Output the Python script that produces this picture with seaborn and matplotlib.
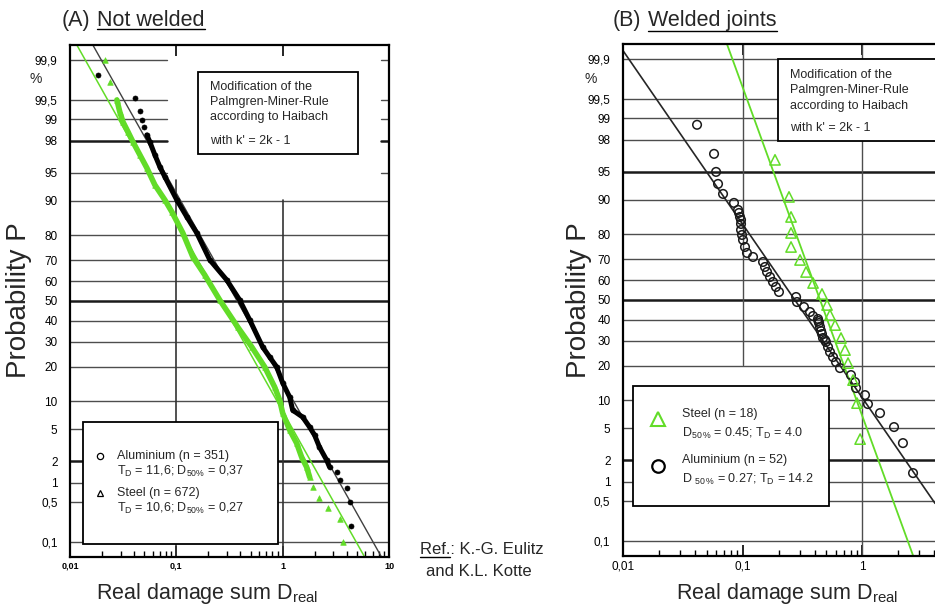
import numpy as np
import pandas as pd
import matplotlib
matplotlib.use("Agg")
import matplotlib.pyplot as plt
import matplotlib.ticker as mticker
import seaborn as sns
from matplotlib.patches import Rectangle
from matplotlib.lines import Line2D
from statistics import NormalDist

# ---------------- data (D_real, probability P in %) ----------------
# (A) not welded - aluminium (n = 351), traced along the dense point cloud
al_a_D = [0.0183, 0.0407, 0.0454, 0.0474, 0.0496, 0.0528, 0.0564, 0.0628, 0.0700, 0.0780,
          0.101, 0.1255, 0.1557, 0.2065, 0.298, 0.394, 0.490, 0.648, 0.755, 0.879,
          1.00, 1.164, 1.242, 1.542, 1.795, 1.996, 2.22, 2.59, 2.76, 3.21,
          3.43, 3.99, 4.26, 4.35]
al_a_P = [99.81, 99.54, 99.26, 98.99, 98.72, 98.33, 97.92, 96.94, 95.71, 94.41,
          90.23, 85.93, 80.83, 70.05, 60.6, 50.5, 40.4, 27.8, 23.6, 19.9,
          14.7, 10.9, 8.1, 6.85, 5.3, 4.29, 3.06, 2.08, 1.67, 1.42,
          1.09, 0.83, 0.50, 0.20]
# (A) not welded - steel (n = 672)
st_a_D = [0.0213, 0.0238, 0.0276, 0.0294, 0.0315, 0.0351, 0.0391, 0.0454, 0.0528, 0.0628,
          0.0780, 0.0908, 0.1151, 0.143, 0.185, 0.256, 0.378, 0.512, 0.678, 0.841,
          0.937, 1.00, 1.164, 1.353, 1.507, 1.679, 1.795, 1.915, 2.22, 2.65,
          3.43, 3.66]
st_a_P = [99.90, 99.75, 99.50, 99.23, 98.91, 98.49, 97.92, 96.94, 95.59, 93.15,
          90.23, 87.32, 80.83, 71.36, 63.05, 50.5, 36.9, 27.8, 19.9, 13.5,
          10.2, 7.55, 4.91, 3.43, 2.28, 1.67, 1.20, 0.85, 0.58, 0.40,
          0.26, 0.10]
# fitted lines in (A), end points read at the frame
al_a_fit_D = [0.0164, 8.5]
al_a_fit_P = [99.948, 0.052]
st_a_fit_D = [0.0116, 5.9]
st_a_fit_P = [99.948, 0.052]

# (B) welded joints - aluminium (n = 52)
al_b_D = [0.0416, 0.0577, 0.0600, 0.0623, 0.0686, 0.0847, 0.0916, 0.0933, 0.0951, 0.0970,
          0.0970, 0.0970, 0.0989, 0.1008, 0.1047, 0.1088, 0.1222, 0.1482, 0.1539, 0.160,
          0.1695, 0.1795, 0.190, 0.2014, 0.280, 0.285, 0.326, 0.366, 0.388, 0.427,
          0.43, 0.436, 0.444, 0.453, 0.461, 0.470, 0.489, 0.498, 0.518, 0.538,
          0.570, 0.604, 0.652, 0.805, 0.871, 0.887, 1.055, 1.117, 1.409, 1.845,
          2.19, 2.66]
al_b_P = [98.76, 96.94, 94.96, 93.15, 91.29, 89.32, 87.58, 86.76, 85.63, 84.75,
          83.50, 81.52, 79.76, 77.91, 75.15, 72.67, 70.93, 68.69, 66.39, 64.02,
          61.60, 59.13, 56.63, 54.09, 51.53, 48.97, 46.42, 43.89, 41.88, 40.38,
          39.4, 38.41, 36.47, 34.55, 33.14, 31.31, 30.4, 29.52, 27.33, 25.24,
          23.24, 21.33, 19.16, 16.81, 14.66, 12.97, 11.16, 9.12, 7.37, 5.18,
          3.34, 1.33]
# (B) welded joints - steel (n = 18)
st_b_D = [0.1866, 0.2443, 0.254, 0.254, 0.254, 0.302, 0.339, 0.388, 0.461, 0.508,
          0.538, 0.593, 0.665, 0.718, 0.761, 0.838, 0.905, 0.960]
st_b_P = [96.37, 90.67, 85.63, 80.48, 75.15, 69.6, 64.02, 58.63, 53.07, 47.45,
          42.37, 37.42, 31.31, 26.07, 20.96, 15.25, 9.33, 3.74]
al_b_fit_D = [0.01, 4.06]
al_b_fit_P = [99.93, 0.46]
st_b_fit_D = [0.0735, 2.67]
st_b_fit_P = [99.95, 0.052]

prob_ticks = [0.1, 0.5, 1, 2, 5, 10, 20, 30, 40, 50, 60, 70, 80, 90, 95, 98, 99, 99.5, 99.9]
prob_labels = ["0,1", "0,5", "1", "2", "5", "10", "20", "30", "40", "50", "60", "70",
               "80", "90", "95", "98", "99", "99,5", "99,9"]
x_ticks_a = [0.01, 0.1, 1, 10]
x_labels_a = ["0,01", "0,1", "1", "10"]
x_ticks_b = [0.01, 0.1, 1]
x_labels_b = ["0,01", "0,1", "1"]

GREEN = "#62dc28"

# ---------------- style ----------------
sns.set_style("white")
plt.rcParams['font.family'] = ['Liberation Sans', 'DejaVu Sans']
plt.rcParams['mathtext.fontset'] = 'custom'
plt.rcParams['mathtext.rm'] = 'Liberation Sans'
plt.rcParams['mathtext.it'] = 'Liberation Sans:italic'
plt.rcParams['mathtext.bf'] = 'Liberation Sans:bold'

# normal probability scale (P in % <-> standard normal quantile)
_nd = NormalDist()
_ppf = np.vectorize(_nd.inv_cdf, otypes=[float])
_cdf = np.vectorize(_nd.cdf, otypes=[float])


def p_to_z(p):
    p = np.clip(np.asarray(p, dtype=float) / 100.0, 1e-9, 1 - 1e-9)
    return _ppf(p)


def z_to_p(z):
    return _cdf(np.asarray(z, dtype=float)) * 100.0


W, H = 935.0, 609.0
fig = plt.figure(figsize=(W / 100, H / 100), dpi=100)


def fig_rect(x0, y0, x1, y1):
    return [x0 / W, 1 - y1 / H, (x1 - x0) / W, (y1 - y0) / H]


def fxy(x, y):
    return x / W, 1 - y / H


axA = fig.add_axes(fig_rect(70, 45, 389, 557))
axB = fig.add_axes(fig_rect(623, 44, 935, 556))

for ax in (axA, axB):
    ax.set_xscale('log')
    ax.set_yscale('function', functions=(p_to_z, z_to_p))
    ax.set_ylim(0.052, 99.948)
    ax.set_yticks(prob_ticks)
    ax.set_yticklabels(prob_labels)
    ax.yaxis.set_minor_locator(mticker.NullLocator())
    ax.tick_params(axis='y', which='major', direction='out', length=7, width=1.2,
                   labelsize=8.5, pad=2, colors='black')
    ax.tick_params(axis='x', which='major', direction='in', length=8, width=1.2,
                   top=True, bottom=True, colors='black')
    ax.tick_params(axis='x', which='minor', direction='in', length=4, width=1.0,
                   top=False, bottom=True, colors='black')
    ax.xaxis.set_minor_formatter(mticker.NullFormatter())
    for s in ax.spines.values():
        s.set_linewidth(1.6)
        s.set_color('black')

axA.set_xlim(0.01, 10)
axA.set_xticks(x_ticks_a)
axA.set_xticklabels(x_labels_a, fontsize=6.5, fontweight='bold')
axB.set_xlim(0.01, 4.06)
axB.set_xticks(x_ticks_b)
axB.set_xticklabels(x_labels_b, fontsize=8.5)
axB.spines['right'].set_visible(False)

# ---------------- grid (drawn by hand, partial lines like the original) ----------------
bold_a = {98, 50, 2}
bold_b = {95, 50, 2}
for p in prob_ticks:
    lw = 1.8 if p in bold_a else 1.0
    col = '0.1' if p in bold_a else '0.3'
    if p >= 95:
        axA.axhline(p, xmin=0, xmax=0.304, color=col, lw=lw, zorder=1)
        axA.axhline(p, xmin=0.975, xmax=1, color=col, lw=lw, zorder=1)
    else:
        axA.axhline(p, color=col, lw=lw, zorder=1)
    lw = 1.8 if p in bold_b else 1.0
    col = '0.1' if p in bold_b else '0.3'
    axB.axhline(p, color=col, lw=lw, zorder=1)

axA.axvline(0.1, ymin=0, ymax=0.736, color='0.2', lw=1.2, zorder=1)
axA.axvline(1, ymin=0, ymax=0.697, color='0.2', lw=1.2, zorder=1)
axB.axvline(0.1, ymin=0.373, ymax=1, color='0.3', lw=1.0, zorder=1)
axB.axvline(1, color='0.3', lw=1.0, zorder=1)

# ---------------- (A) data ----------------
al_a = pd.DataFrame({'D': al_a_D, 'P': al_a_P})
st_a = pd.DataFrame({'D': st_a_D, 'P': st_a_P})
al_dense = al_a.iloc[5:29]
st_dense = st_a.iloc[2:27]

sns.lineplot(data=st_dense, x='D', y='P', sort=False, estimator=None, color=GREEN,
             lw=4.0, ax=axA, legend=False, zorder=3)
sns.scatterplot(data=st_a, x='D', y='P', marker='^', s=16, color=GREEN,
                edgecolor=GREEN, linewidth=0.5, ax=axA, legend=False, zorder=3)
sns.lineplot(data=al_dense, x='D', y='P', sort=False, estimator=None, color='black',
             lw=3.6, ax=axA, legend=False, zorder=4)
sns.scatterplot(data=al_a, x='D', y='P', marker='o', s=13, color='black',
                edgecolor='black', linewidth=0.5, ax=axA, legend=False, zorder=4)
sns.lineplot(x=st_a_fit_D, y=st_a_fit_P, sort=False, estimator=None, color=GREEN,
             lw=1.1, ax=axA, legend=False, zorder=2)
sns.lineplot(x=al_a_fit_D, y=al_a_fit_P, sort=False, estimator=None, color='0.25',
             lw=1.0, ax=axA, legend=False, zorder=2)

# ---------------- (B) data ----------------
al_b = pd.DataFrame({'D': al_b_D, 'P': al_b_P})
st_b = pd.DataFrame({'D': st_b_D, 'P': st_b_P})
sns.lineplot(x=al_b_fit_D, y=al_b_fit_P, sort=False, estimator=None, color='0.15',
             lw=1.2, ax=axB, legend=False, zorder=2)
sns.lineplot(x=st_b_fit_D, y=st_b_fit_P, sort=False, estimator=None, color=GREEN,
             lw=1.3, ax=axB, legend=False, zorder=2)
sns.scatterplot(data=al_b, x='D', y='P', marker='o', s=38, facecolors='none',
                edgecolor='0.1', linewidth=1.1, ax=axB, legend=False, zorder=4)
sns.scatterplot(data=st_b, x='D', y='P', marker='^', s=55, facecolors='none',
                edgecolor=GREEN, linewidth=1.1, ax=axB, legend=False, zorder=4)

for ax in (axA, axB):
    ax.set_xlabel('')
    ax.set_ylabel('')

# ---------------- boxes (figure pixel layout) ----------------
def fig_box(x0, y0, x1, y1, lw=1.3):
    r = Rectangle(fxy(x0, y1), (x1 - x0) / W, (y1 - y0) / H, transform=fig.transFigure,
                  facecolor='white', edgecolor='black', lw=lw, zorder=5)
    fig.add_artist(r)


def ftext(x, y, s, **kw):
    kw.setdefault('zorder', 6)
    return fig.text(*fxy(x, y), s, **kw)


def fmarker(x, y, **kw):
    fig.add_artist(Line2D([x / W], [1 - y / H], transform=fig.transFigure, zorder=6, **kw))


# annotation boxes
fig_box(198, 72, 358, 154)
for yy, s in zip([87, 102, 117, 141], ["Modification of the", "Palmgren-Miner-Rule",
                                       "according to Haibach", "with k' = 2k - 1"]):
    ftext(210, yy, s, fontsize=9, va='center', ha='left')
fig_box(778, 59, 950, 141)
for yy, s in zip([75, 90, 106, 128], ["Modification of the", "Palmgren-Miner-Rule",
                                      "according to Haibach", "with k' = 2k - 1"]):
    ftext(790, yy, s, fontsize=9, va='center', ha='left')

# legend (A)
fig_box(83, 422, 278, 544)
fmarker(100, 456, marker='o', ms=4.5, mfc='none', mec='black', mew=0.9, ls='none')
ftext(117, 456, "Aluminium (n = 351)", fontsize=9, va='center')
ftext(117, 471, r"T$_\mathrm{D}$ = 11,6; D$_\mathrm{50\%}$ = 0,37", fontsize=9, va='center')
fmarker(100, 493, marker='^', ms=5, mfc='none', mec='black', mew=0.9, ls='none')
ftext(117, 493, "Steel (n = 672)", fontsize=9, va='center')
ftext(117, 508, r"T$_\mathrm{D}$ = 10,6; D$_\mathrm{50\%}$ = 0,27", fontsize=9, va='center')

# legend (B)
fig_box(633, 386, 829, 506)
fmarker(658, 419, marker='^', ms=10, mfc='none', mec=GREEN, mew=1.5, ls='none')
ftext(682, 414, "Steel (n = 18)", fontsize=9, va='center')
ftext(682, 433, r"D$_\mathrm{50\,\%}$ = 0.45; T$_\mathrm{D}$ = 4.0", fontsize=9, va='center')
fmarker(658, 466, marker='o', ms=9, mfc='none', mec='black', mew=1.6, ls='none')
ftext(682, 460, "Aluminium (n = 52)", fontsize=9, va='center')
ftext(682, 479, r"D $_\mathrm{50\,\%}$ = 0.27; T$_\mathrm{D}$ = 14.2", fontsize=9, va='center')

# ---------------- labels and titles ----------------
ftext(36, 79, "%", fontsize=10, ha='center', va='center')
ftext(591, 79, "%", fontsize=10, ha='center', va='center')
ftext(19, 300, "Probability P", fontsize=20, rotation=90, ha='center', va='center')
ftext(579, 300, "Probability P", fontsize=20, rotation=90, ha='center', va='center')
ftext(207, 593, r"Real damage sum D$_\mathrm{real}$", fontsize=15.5, ha='center', va='center')
ftext(787, 593, r"Real damage sum D$_\mathrm{real}$", fontsize=15.5, ha='center', va='center')

ftext(62, 26, "(A)", fontsize=15.5, va='baseline')
tA = ftext(97, 26, "Not welded", fontsize=15.5, va='baseline')
ftext(613, 26, "(B)", fontsize=15.5, va='baseline')
tB = ftext(648, 26, "Welded joints", fontsize=15.5, va='baseline')
ftext(420, 550, "Ref.: K.-G. Eulitz", fontsize=12, va='center')
ftext(426, 572, "and K.L. Kotte", fontsize=12, va='center')
tR0 = ftext(420, 550, "Ref.", fontsize=12, va='center', alpha=0)

fig.canvas.draw()
rend = fig.canvas.get_renderer()
for t, yy in ((tA, 29), (tB, 31), (tR0, 557)):
    bb = t.get_window_extent(rend)
    fig.add_artist(Line2D([bb.x0 / W, bb.x1 / W], [1 - yy / H] * 2,
                          transform=fig.transFigure, color='black', lw=1.0, zorder=6))

fig.savefig("out.png", dpi=100)
